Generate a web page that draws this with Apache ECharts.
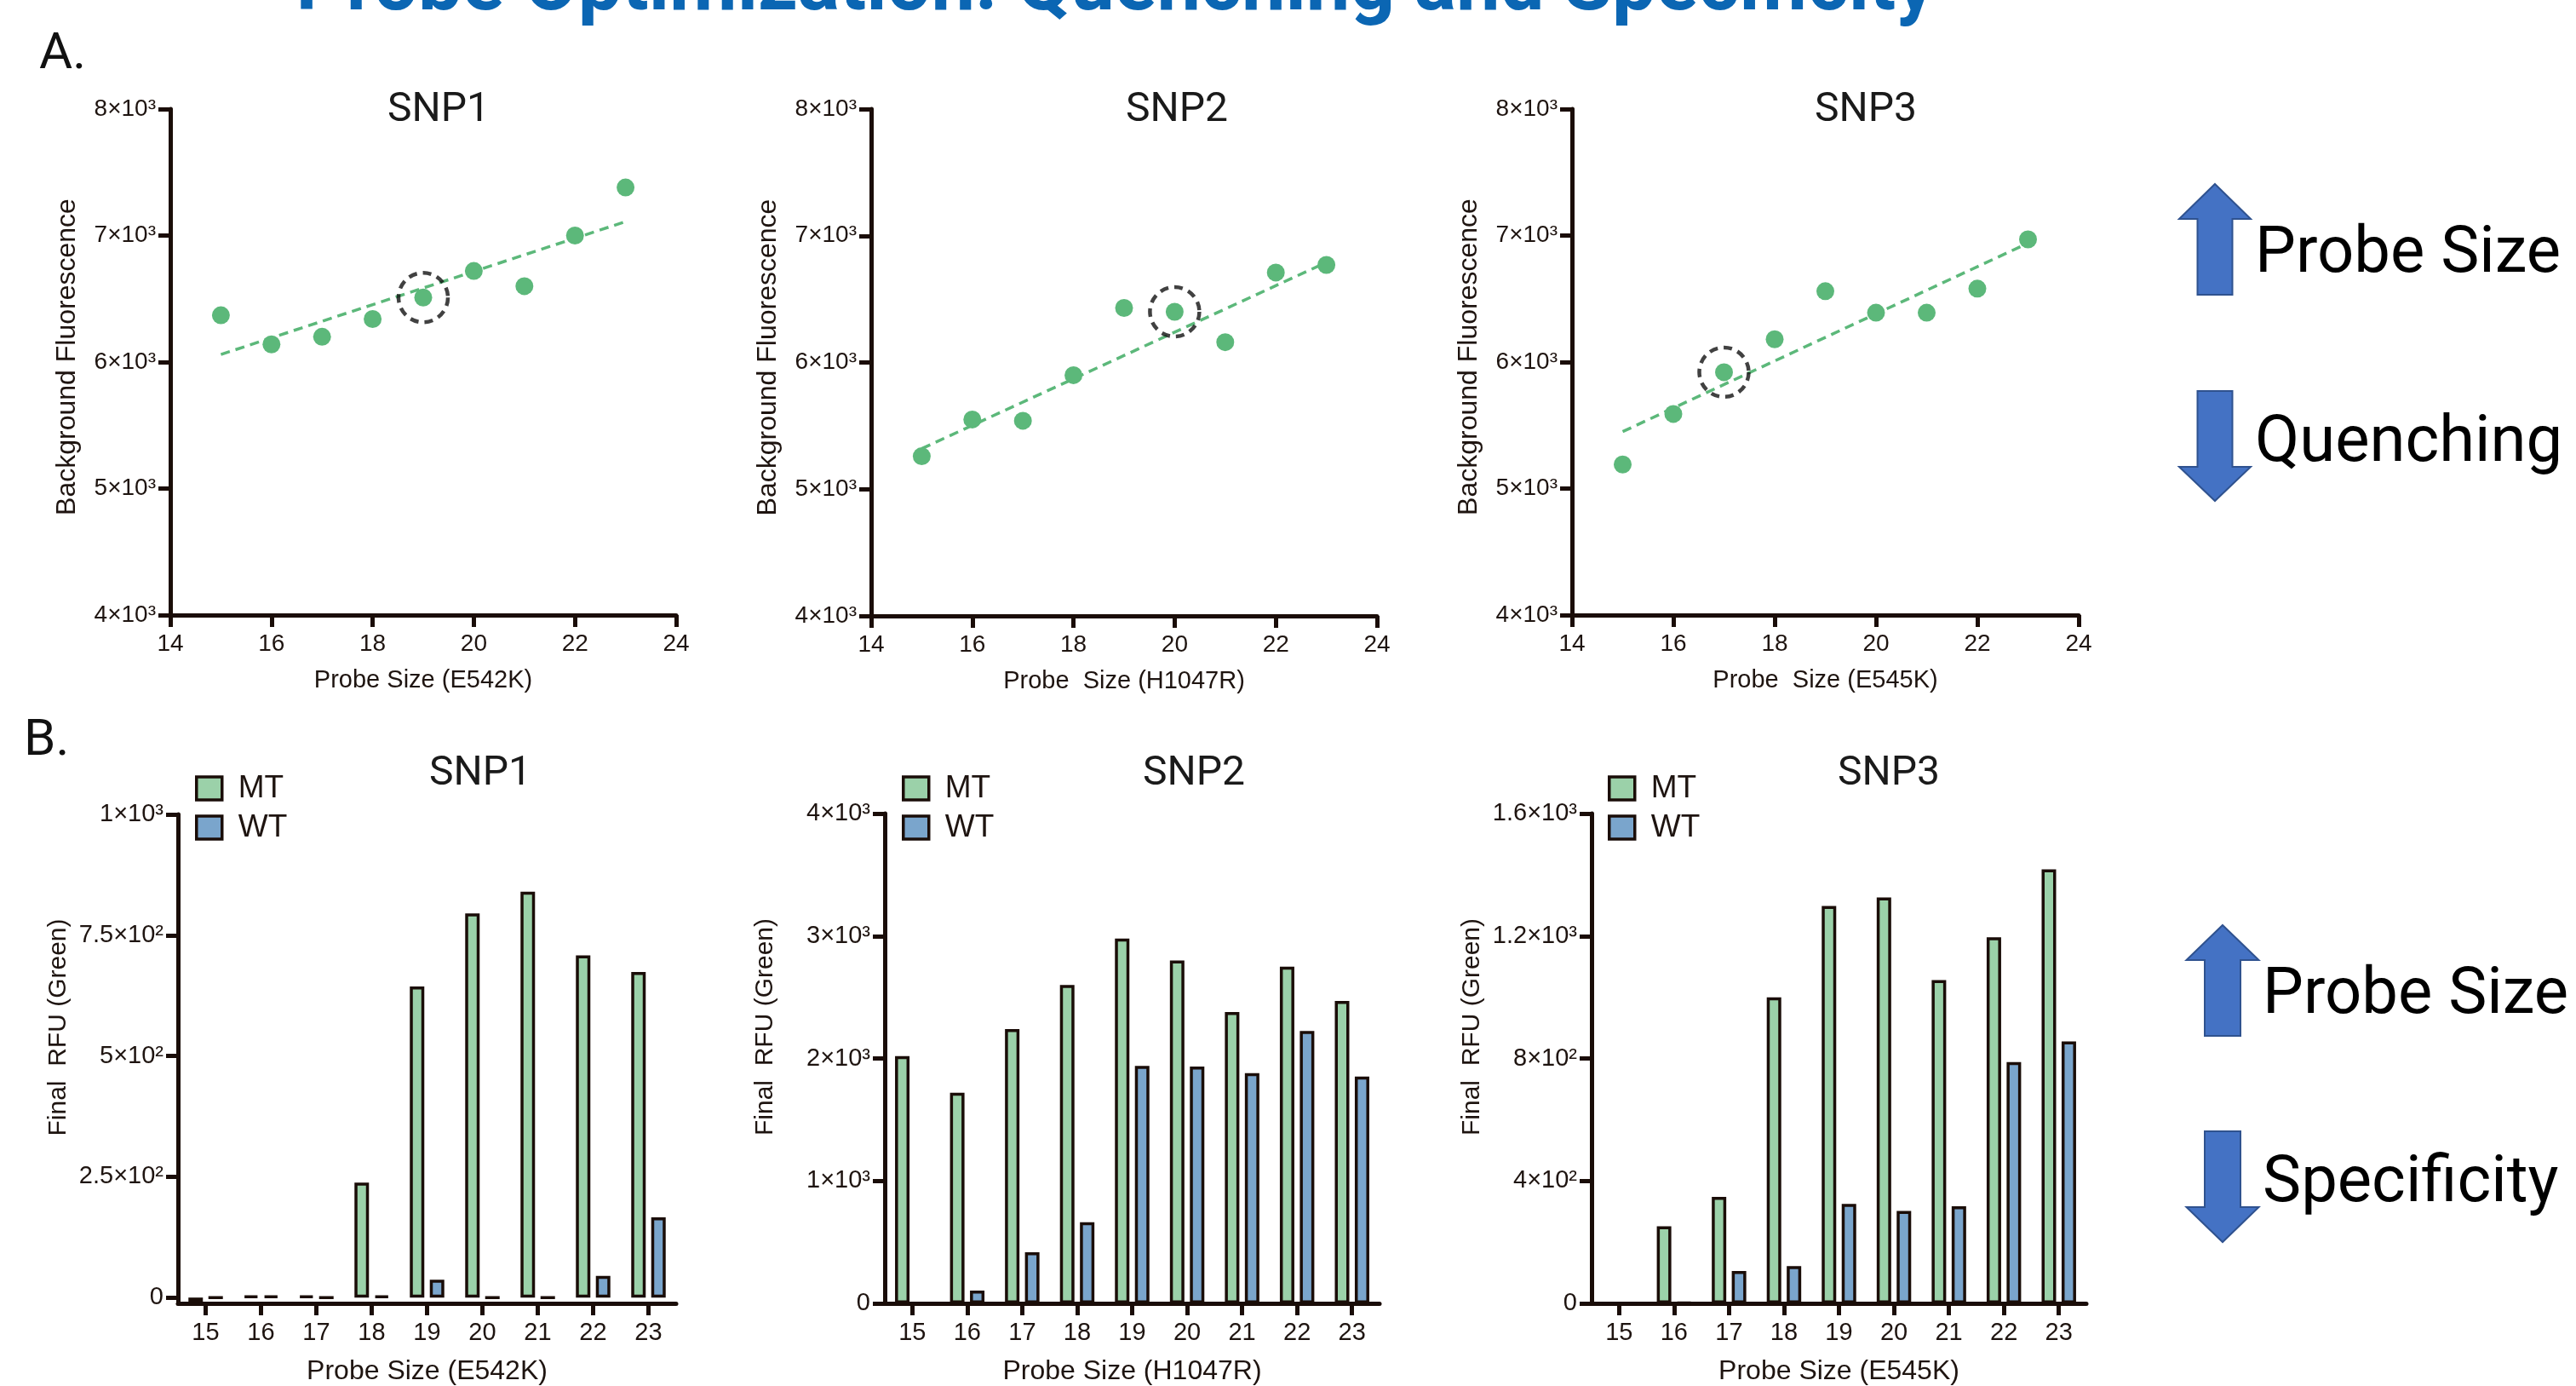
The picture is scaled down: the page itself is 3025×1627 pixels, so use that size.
<!DOCTYPE html>
<html><head><meta charset="utf-8">
<script src="https://cdn.jsdelivr.net/npm/echarts@6/dist/echarts.min.js"></script>
<style>html,body{margin:0;padding:0;background:#fff}#c{width:3025px;height:1627px}</style>
</head><body><div id="c"></div>
<script>
// ---------- DATA ----------
const probeSizes = [15, 16, 17, 18, 19, 20, 21, 22, 23];
const bgSNP1 = [6370, 6140, 6200, 6340, 6510, 6720, 6600, 7000, 7380];
const bgSNP2 = [5260, 5550, 5540, 5900, 6430, 6400, 6160, 6710, 6770];
const bgSNP3 = [5190, 5590, 5920, 6180, 6560, 6390, 6390, 6580, 6970];
const trendSNP1 = [[15, 6060], [23, 7110]];
const trendSNP2 = [[15, 5320], [23, 6790]];
const trendSNP3 = [[15, 5450], [23, 6940]];
const chosenSize = [19, 20, 17];

const sizeLabels = ['15', '16', '17', '18', '19', '20', '21', '22', '23'];
const mtSNP1 = [-10, 3, 3, 238, 644, 795, 840, 708, 674];
const wtSNP1 = [0, 3, 0, 3, 37, 0, 0, 45, 166];
const mtSNP2 = [2020, 1720, 2240, 2600, 2980, 2800, 2380, 2750, 2470];
const wtSNP2 = [0, 105, 417, 662, 1940, 1934, 1880, 2224, 1852];
const mtSNP3 = [0, 252, 348, 1000, 1298, 1326, 1056, 1196, 1418];
const wtSNP3 = [0, 3, 106, 122, 325, 302, 317, 788, 856];

const yTicksA = ['4×10³', '5×10³', '6×10³', '7×10³', '8×10³'];
const yTicksB1 = ['0', '2.5×10²', '5×10²', '7.5×10²', '1×10³'];
const yTicksB2 = ['0', '1×10³', '2×10³', '3×10³', '4×10³'];
const yTicksB3 = ['0', '4×10²', '8×10²', '1.2×10³', '1.6×10³'];

const panelTitles = ['SNP1', 'SNP2', 'SNP3'];
const xNamesA = ['Probe Size (E542K)', 'Probe  Size (H1047R)', 'Probe  Size (E545K)'];
const xNamesB = ['Probe Size (E542K)', 'Probe Size (H1047R)', 'Probe Size (E545K)'];

// ---------- STYLE ----------
const AX = '#1a0d08';
const TXT = '#1e1410';
const GREEN = '#5cb87a';
const MT_C = '#9bd1a9';
const WT_C = '#7aa5cc';
const FONT = '"Liberation Sans", Arial, sans-serif';
const DIN = 'Roboto, "Noto Sans", sans-serif';

const gridsA = [
  {left: 200, top: 128, width: 594, height: 594},
  {left: 1023, top: 128, width: 594, height: 595},
  {left: 1846, top: 128, width: 595, height: 594}
];
const gridsB = [
  {left: 209, top: 956, width: 585, height: 584},
  {left: 1039, top: 955, width: 581, height: 582},
  {left: 1869, top: 955, width: 581, height: 580}
];

const bgAll = [bgSNP1, bgSNP2, bgSNP3];
const trendAll = [trendSNP1, trendSNP2, trendSNP3];
const mtAll = [mtSNP1, mtSNP2, mtSNP3];
const wtAll = [wtSNP1, wtSNP2, wtSNP3];
const yTicksB = [yTicksB1, yTicksB2, yTicksB3];
const yB = [
  {min: -12, max: 1000, step: 250},
  {min: 0, max: 4000, step: 1000},
  {min: 0, max: 1600, step: 400}
];

function line() { return {show: true, onZero: false, lineStyle: {color: AX, width: 5}}; }
function tick(extra) { return Object.assign({show: true, length: 14, lineStyle: {color: AX, width: 5}}, extra || {}); }

const xAxes = [], yAxes = [], series = [];
gridsA.forEach((g, i) => {
  xAxes.push({
    type: 'value', gridIndex: i, min: 14, max: 24, interval: 2,
    axisLine: line(), axisTick: tick(), splitLine: {show: false},
    axisLabel: {fontFamily: FONT, fontSize: 28, color: TXT, margin: 20},
    name: xNamesA[i], nameLocation: 'middle', nameGap: 62,
    nameTextStyle: {fontFamily: FONT, fontSize: 29, color: TXT}
  });
  yAxes.push({
    type: 'value', gridIndex: i, min: 4000, max: 8000, interval: 1000,
    axisLine: line(), axisTick: tick(), splitLine: {show: false},
    axisLabel: {fontFamily: FONT, fontSize: 28, color: TXT, margin: 17,
      formatter: v => yTicksA[Math.round((v - 4000) / 1000)]},
    name: 'Background Fluorescence', nameLocation: 'middle', nameGap: 105,
    nameTextStyle: {fontFamily: FONT, fontSize: 32, color: TXT, padding: [0, 0, 0, 12]}
  });
  const bg = bgAll[i];
  series.push({
    type: 'line', xAxisIndex: i, yAxisIndex: i, data: trendAll[i], symbol: 'none',
    lineStyle: {color: GREEN, width: 3.5, type: [11, 7]}, z: 1, silent: true
  });
  series.push({
    type: 'scatter', xAxisIndex: i, yAxisIndex: i,
    data: probeSizes.map((x, k) => [x, bg[k]]), symbolSize: 21,
    itemStyle: {color: GREEN, opacity: 1}, z: 2
  });
  const c = chosenSize[i];
  series.push({
    type: 'scatter', xAxisIndex: i, yAxisIndex: i,
    data: [[c, bg[probeSizes.indexOf(c)]]], symbolSize: 58,
    itemStyle: {color: 'rgba(0,0,0,0)', borderColor: '#111', borderWidth: 4.5, borderType: [10, 7]},
    z: 3, silent: true
  });
});

gridsB.forEach((g, i) => {
  const ai = 3 + i;
  const yb = yB[i];
  const vals = yTicksB[i].map((t, k) => k * yb.step);
  xAxes.push({
    type: 'category', gridIndex: ai, data: sizeLabels,
    axisLine: line(), axisTick: tick({alignWithLabel: true}), splitLine: {show: false},
    axisLabel: {fontFamily: FONT, fontSize: 29, color: TXT, margin: 20},
    name: xNamesB[i], nameLocation: 'middle', nameGap: 64,
    nameTextStyle: {fontFamily: FONT, fontSize: 32, color: TXT}
  });
  yAxes.push({
    type: 'value', gridIndex: ai, min: yb.min, max: yb.max,
    axisLine: line(), axisTick: tick({customValues: vals}), splitLine: {show: false},
    axisLabel: {fontFamily: FONT, fontSize: 29, color: TXT, margin: 17, customValues: vals,
      formatter: v => yTicksB[i][Math.round(v / yb.step)]},
    name: 'Final  RFU (Green)', nameLocation: 'middle', nameGap: 125,
    nameTextStyle: {fontFamily: FONT, fontSize: 30, color: TXT, padding: [0, 0, 0, 74]}
  });
  series.push({
    type: 'bar', name: 'MT', xAxisIndex: ai, yAxisIndex: ai, data: mtAll[i],
    barWidth: 17, barGap: '38%',
    itemStyle: {color: MT_C, borderColor: AX, borderWidth: 3.5}
  });
  series.push({
    type: 'bar', name: 'WT', xAxisIndex: ai, yAxisIndex: ai, data: wtAll[i],
    barWidth: 17, barGap: '38%',
    itemStyle: {color: WT_C, borderColor: AX, borderWidth: 3.5}
  });
});

const legendLeft = [224, 1054, 1883];
const legends = legendLeft.map(l => ({
  data: ['MT', 'WT'], orient: 'vertical', left: l, top: 902,
  itemWidth: 30, itemHeight: 27, itemGap: 9, icon: 'rect', selectedMode: false,
  itemStyle: {borderColor: AX, borderWidth: 3.5},
  textStyle: {fontFamily: FONT, fontSize: 37, color: TXT, lineHeight: 30, padding: [0, 0, 0, 14]}
}));

const titleCentersA = [515, 1382, 2191];
const titleCentersB = [564, 1402, 2218];
const titles = [];
titleCentersA.forEach((x, i) => titles.push({text: panelTitles[i], left: x, top: 106, textAlign: 'center', padding: 0,
  textStyle: {fontFamily: DIN, fontSize: 48, fontWeight: 'normal', color: '#1a1a1a'}}));
titleCentersB.forEach((x, i) => titles.push({text: panelTitles[i], left: x, top: 885, textAlign: 'center', padding: 0,
  textStyle: {fontFamily: DIN, fontSize: 48, fontWeight: 'normal', color: '#1a1a1a'}}));

function upArrow(cx, tip, base, bottom, hw, sw) {
  return {type: 'polygon', shape: {points: [[cx, tip], [cx + hw, base], [cx + sw, base], [cx + sw, bottom], [cx - sw, bottom], [cx - sw, base], [cx - hw, base]]},
    style: {fill: '#4472c4', stroke: '#2f528f', lineWidth: 2}};
}
function downArrow(cx, top, base, tip, hw, sw) {
  return {type: 'polygon', shape: {points: [[cx - sw, top], [cx + sw, top], [cx + sw, base], [cx + hw, base], [cx, tip], [cx - hw, base], [cx - sw, base]]},
    style: {fill: '#4472c4', stroke: '#2f528f', lineWidth: 2}};
}
function txt(s, x, y, size, opts) {
  return {type: 'text', x: x, y: y, style: Object.assign({text: s, font: 'normal ' + size + 'px ' + DIN, fill: '#000', align: 'left', verticalAlign: 'middle'}, opts || {})};
}

const graphic = [
  {type: 'text', x: 1310, y: -12, style: {text: 'Probe Optimization: Quenching and Specificity', font: 'bold 92px ' + DIN, fill: '#0b66b3', align: 'center', verticalAlign: 'middle'}},
  txt('A.', 46, 65, 60, {fill: '#111'}),
  txt('B.', 28, 871, 60, {fill: '#111'}),
  upArrow(2601, 216, 257, 346, 42, 20.5),
  downArrow(2601, 459, 548, 588, 42, 20.5),
  upArrow(2610, 1086, 1127, 1216, 42.5, 21),
  downArrow(2610, 1328, 1417, 1458, 42.5, 21),
  txt('Probe Size', 2648, 300, 76),
  txt('Quenching', 2648, 522, 76),
  txt('Probe Size', 2657, 1170, 76),
  txt('Specificity', 2657, 1391, 76)
];

const chart = echarts.init(document.getElementById('c'));
chart.setOption({
  backgroundColor: '#ffffff',
  animation: false,
  title: titles,
  legend: legends,
  grid: gridsA.concat(gridsB),
  xAxis: xAxes,
  yAxis: yAxes,
  series: series,
  graphic: graphic
});
</script></body></html>
